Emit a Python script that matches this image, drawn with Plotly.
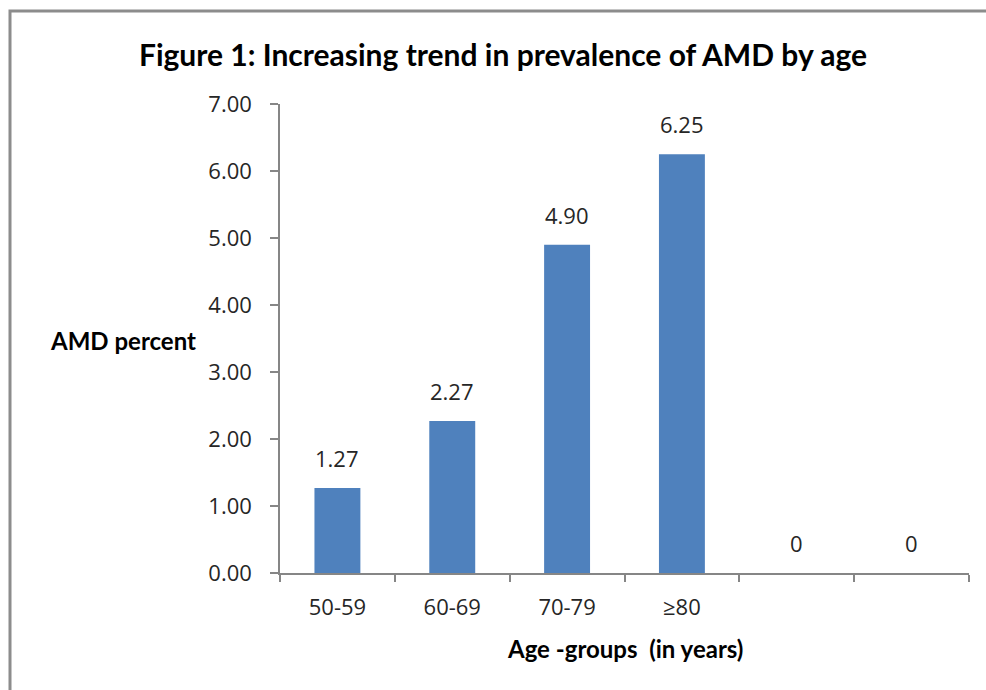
import plotly.graph_objects as go

# Age groups (the last two slots are unnamed and hold zero)
age_groups = ["50-59", "60-69", "70-79", "≥80", " ", "  "]
amd_percent = [1.27, 2.27, 4.90, 6.25, 0, 0]
y_ticks = [0, 1, 2, 3, 4, 5, 6, 7]

BAR_BLUE = "#4F81BD"
AXIS_GREY = "#868686"
TEXT = "#262626"
TICK_FONT = dict(family="Open Sans, DejaVu Sans, sans-serif", size=22, color=TEXT)
BOLD_FONT = "Lato, Open Sans, sans-serif"

fig = go.Figure()
fig.add_trace(go.Bar(
    x=age_groups,
    y=amd_percent,
    marker=dict(color=BAR_BLUE, line=dict(width=0)),
    width=0.4,
    hoverinfo="x+y",
))

# Value labels above each bar
for cat, val in zip(age_groups, amd_percent):
    fig.add_annotation(
        x=cat, y=val, xref="x", yref="y",
        text=f"{val:.2f}" if val else "0",
        showarrow=False, yanchor="bottom", yshift=13,
        font=TICK_FONT,
    )

# Axis titles
fig.add_annotation(
    x=-0.337, y=(573 - 340) / 469, xref="paper", yref="paper",
    xanchor="left", yanchor="middle",
    text="<b>AMD percent</b>", showarrow=False,
    font=dict(family=BOLD_FONT, size=24, color="#000000"),
)
fig.add_annotation(
    x=0.5, y=-(648 - 573) / 469, xref="paper", yref="paper",
    xanchor="center", yanchor="middle",
    text="<b>Age -groups  (in years)</b>", showarrow=False,
    font=dict(family=BOLD_FONT, size=24, color="#000000"),
)

# Chart frame
fig.add_shape(
    type="rect", xref="paper", yref="paper",
    x0=(10 - 280) / 689, x1=(1000 - 280) / 689,
    y0=-(720 - 573) / 469, y1=(573 - 11) / 469,
    line=dict(color="#8C8C8C", width=3), fillcolor="rgba(0,0,0,0)",
    layer="below",
)

fig.update_layout(
    width=986, height=690,
    margin=dict(l=280, r=17, t=104, b=117),
    paper_bgcolor="white", plot_bgcolor="white",
    showlegend=False,
    title=dict(
        text="<b>Figure 1: Increasing trend in prevalence of AMD by age</b>",
        x=503 / 986, xref="container", xanchor="center",
        y=1 - 55 / 690, yanchor="middle",
        font=dict(family=BOLD_FONT, size=30, color="#000000"),
    ),
    bargap=0.6,
)

fig.update_xaxes(
    type="category",
    showline=True, linecolor=AXIS_GREY, linewidth=1.5,
    ticks="outside", tickson="boundaries", ticklen=7,
    tickcolor=AXIS_GREY, tickwidth=1.5,
    tickfont=TICK_FONT, showgrid=False, zeroline=False,
    ticklabelstandoff=14,
)
fig.update_yaxes(
    range=[0, 7], tickvals=y_ticks, tickformat=".2f",
    showline=True, linecolor=AXIS_GREY, linewidth=1.5,
    ticks="outside", ticklen=8, tickcolor=AXIS_GREY, tickwidth=1.5,
    tickfont=TICK_FONT, showgrid=False, zeroline=False,
    ticklabelstandoff=14,
)

fig.write_html("out.html")
